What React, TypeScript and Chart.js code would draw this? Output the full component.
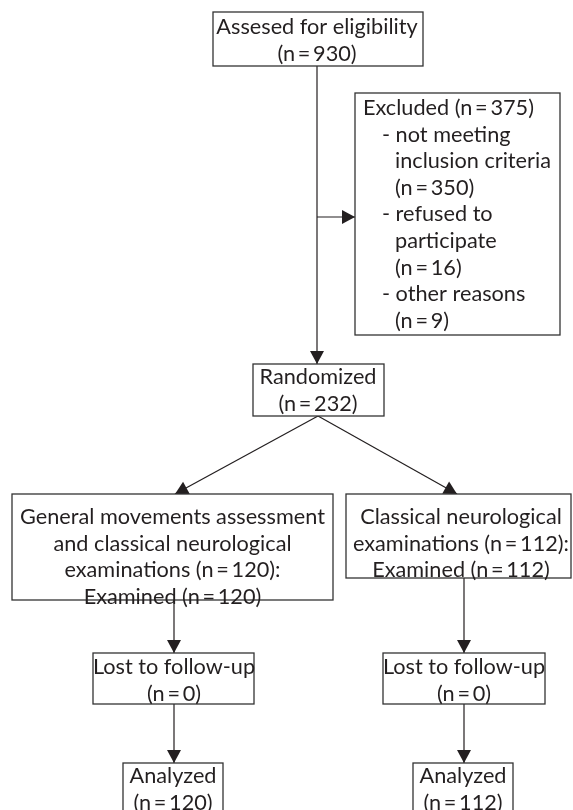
import React, { useEffect, useRef } from "react";
import { Chart, registerables } from "chart.js";

Chart.register(...registerables);

// ---- data ----
const assessedLabel = "Assesed for eligibility";
const assessedCount = 930;
const excludedLabel = "Excluded";
const excludedCount = 375;
const exclusionReasonLines = [
  ["not meeting", "inclusion criteria"],
  ["refused to", "participate"],
  ["other reasons"],
];
const exclusionCounts = [350, 16, 9];
const randomizedLabel = "Randomized";
const randomizedCount = 232;
const armLabelLines = [
  ["General movements assessment", "and classical neurological", "examinations"],
  ["Classical neurological", "examinations"],
];
const armCounts = [120, 112];
const examinedCounts = [120, 112];
const lostLabel = "Lost to follow-up";
const lostCounts = [0, 0];
const analyzedLabel = "Analyzed";
const analyzedCounts = [120, 112];

// ---- layout (canvas coordinates mapped through linear scales) ----
const W = 573;
const H = 810;
const LINE = 26.6;
const colX = [174, 464];

const n = (v: number) => `(n\u2009=\u2009${v})`;

type Box = {
  x0: number; x1: number; y0: number; y1: number;
  lines: string[]; align: "center" | "left"; tx: number; ty: number; indents?: number[];
};

function buildBoxes(): Box[] {
  const boxes: Box[] = [];
  boxes.push({ x0: 213, x1: 423, y0: 12, y1: 66, lines: [assessedLabel, n(assessedCount)], align: "center", tx: 317, ty: 27 });
  const exLines: string[] = [`${excludedLabel} ${n(excludedCount)}`];
  const indents: number[] = [0];
  exclusionReasonLines.forEach((ls, i) => {
    ls.forEach((l, j) => { exLines.push(j === 0 ? `- ${l}` : l); indents.push(j === 0 ? 19 : 32); });
    exLines.push(n(exclusionCounts[i]));
    indents.push(32);
  });
  boxes.push({ x0: 355, x1: 560, y0: 93, y1: 335, lines: exLines, align: "left", tx: 363, ty: 108, indents });
  boxes.push({ x0: 253, x1: 384, y0: 364, y1: 416, lines: [randomizedLabel, n(randomizedCount)], align: "center", tx: 318, ty: 377 });
  const arm0 = [...armLabelLines[0]];
  arm0[arm0.length - 1] += ` ${n(armCounts[0])}:`;
  arm0.push(`Examined ${n(examinedCounts[0])}`);
  boxes.push({ x0: 12, x1: 333, y0: 494, y1: 600, lines: arm0, align: "center", tx: 172.5, ty: 517 });
  const arm1 = [...armLabelLines[1]];
  arm1[arm1.length - 1] += ` ${n(armCounts[1])}:`;
  arm1.push(`Examined ${n(examinedCounts[1])}`);
  boxes.push({ x0: 346, x1: 571, y0: 494, y1: 578, lines: arm1, align: "center", tx: 461, ty: 517 });
  boxes.push({ x0: 93, x1: 254, y0: 653, y1: 704, lines: [lostLabel, n(lostCounts[0])], align: "center", tx: 174, ty: 667 });
  boxes.push({ x0: 383, x1: 545, y0: 653, y1: 704, lines: [lostLabel, n(lostCounts[1])], align: "center", tx: 464, ty: 667 });
  boxes.push({ x0: 123, x1: 223, y0: 763, y1: 840, lines: [analyzedLabel, n(analyzedCounts[0])], align: "center", tx: 173, ty: 776 });
  boxes.push({ x0: 413, x1: 513, y0: 763, y1: 840, lines: [analyzedLabel, n(analyzedCounts[1])], align: "center", tx: 463, ty: 776 });
  return boxes;
}

const connectors: { pts: { x: number; y: number }[]; arrow: boolean }[] = [
  { pts: [{ x: 317, y: 66 }, { x: 317, y: 364 }], arrow: true },
  { pts: [{ x: 317, y: 217 }, { x: 355, y: 217 }], arrow: true },
  { pts: [{ x: 318, y: 416 }, { x: 175, y: 494 }], arrow: true },
  { pts: [{ x: 318, y: 416 }, { x: 457, y: 494 }], arrow: true },
  { pts: [{ x: colX[0], y: 600 }, { x: colX[0], y: 653 }], arrow: true },
  { pts: [{ x: colX[1], y: 578 }, { x: colX[1], y: 653 }], arrow: true },
  { pts: [{ x: colX[0], y: 704 }, { x: colX[0], y: 763 }], arrow: true },
  { pts: [{ x: colX[1], y: 704 }, { x: colX[1], y: 763 }], arrow: true },
];

const INK = "#231f20";
const FONT_FAMILY = "Lato, 'Open Sans', sans-serif";

const flowPlugin = {
  id: "flow",
  afterDatasetsDraw(chart: any) {
    const ctx = chart.ctx as CanvasRenderingContext2D;
    const xs = chart.scales.x;
    const ys = chart.scales.y;
    const px = (v: number) => xs.getPixelForValue(v);
    const py = (v: number) => ys.getPixelForValue(v);
    ctx.save();
    // arrowheads
    chart.data.datasets.forEach((ds: any) => {
      if (!ds.arrow) return;
      const d = ds.data;
      const a = d[d.length - 2];
      const b = d[d.length - 1];
      const x1 = px(b.x), y1 = py(b.y), x0 = px(a.x), y0 = py(a.y);
      const ang = Math.atan2(y1 - y0, x1 - x0);
      const len = 13, half = 7;
      ctx.beginPath();
      ctx.moveTo(x1, y1);
      ctx.lineTo(x1 - len * Math.cos(ang) + half * Math.sin(ang), y1 - len * Math.sin(ang) - half * Math.cos(ang));
      ctx.lineTo(x1 - len * Math.cos(ang) - half * Math.sin(ang), y1 - len * Math.sin(ang) + half * Math.cos(ang));
      ctx.closePath();
      ctx.fillStyle = INK;
      ctx.fill();
    });
    // font size fitted to reference width
    ctx.font = `20px ${FONT_FAMILY}`;
    const wRef = ctx.measureText(armLabelLines[0][0]).width;
    const fs = 20 * 305 / wRef;
    const boxes = buildBoxes();
    boxes.forEach((b) => {
      const x0 = px(b.x0), x1 = px(b.x1), y0 = py(b.y0), y1 = py(b.y1);
      ctx.fillStyle = "#ffffff";
      ctx.fillRect(x0, y0, x1 - x0, y1 - y0);
      ctx.strokeStyle = "#333333";
      ctx.lineWidth = 1.3;
      ctx.strokeRect(x0, y0, x1 - x0, y1 - y0);
    });
    boxes.forEach((b) => {
      ctx.fillStyle = INK;
      ctx.font = `${fs}px ${FONT_FAMILY}`;
      ctx.textBaseline = "middle";
      b.lines.forEach((l, i) => {
        const y = py(b.ty + i * LINE);
        if (b.align === "center") {
          ctx.textAlign = "center";
          ctx.fillText(l, px(b.tx), y);
        } else {
          ctx.textAlign = "left";
          ctx.fillText(l, px(b.tx + (b.indents ? b.indents[i] : 0)), y);
        }
      });
    });
    ctx.restore();
  },
};

export default function App() {
  const ref = useRef<HTMLCanvasElement | null>(null);
  useEffect(() => {
    document.body.style.margin = "0";
    const chart = new Chart(ref.current as HTMLCanvasElement, {
      type: "scatter",
      data: {
        datasets: connectors.map((c) => ({
          data: c.pts,
          showLine: true,
          borderColor: INK,
          borderWidth: 1.2,
          pointRadius: 0,
          arrow: c.arrow,
        })) as any,
      },
      options: {
        responsive: false,
        animation: false,
        layout: { padding: 0 },
        events: [],
        scales: {
          x: { type: "linear", min: 0, max: W, display: false },
          y: { type: "linear", min: 0, max: H, reverse: true, display: false },
        },
        plugins: { legend: { display: false }, tooltip: { enabled: false } },
      },
      plugins: [flowPlugin],
    });
    return () => chart.destroy();
  }, []);
  return (
    <div style={{ position: "absolute", left: 0, top: 0, width: W, height: H, background: "#fff" }}>
      <canvas ref={ref} width={W} height={H} />
    </div>
  );
}
